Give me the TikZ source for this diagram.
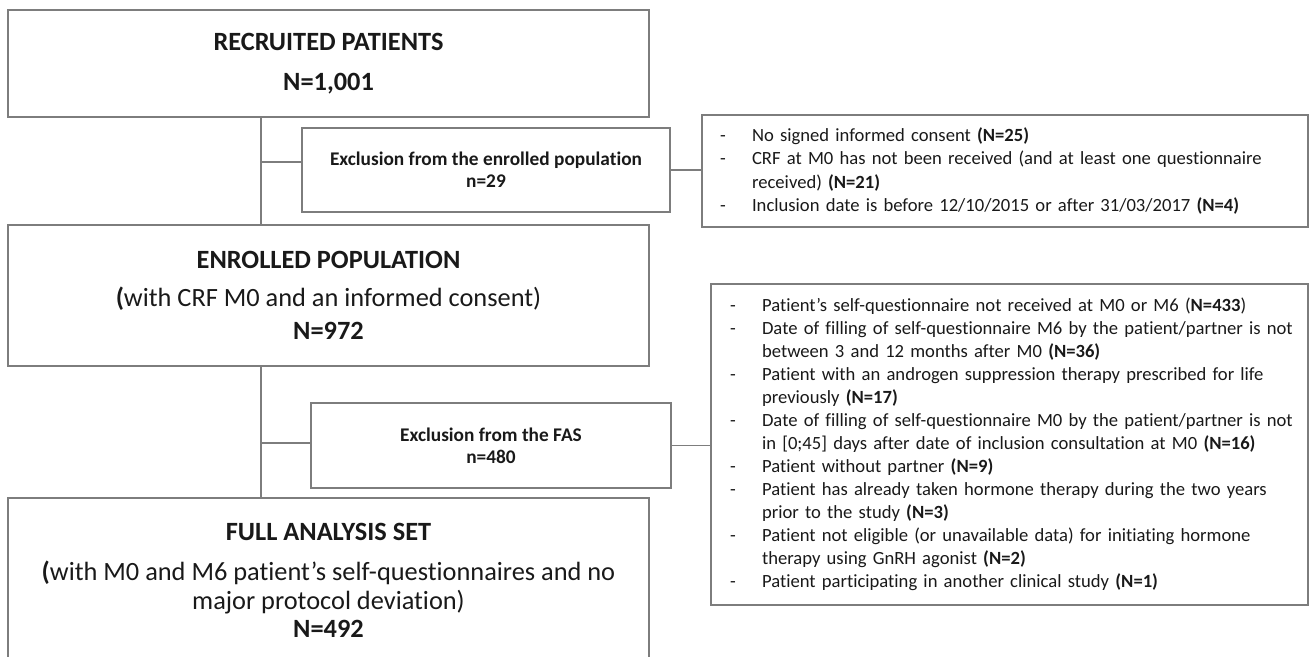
\documentclass[tikz,border=0pt]{standalone}
\usepackage{fontspec}
\setmainfont{Carlito}[Ligatures=NoCommon]
\usetikzlibrary{calc}
\definecolor{boxgrey}{RGB}{125,125,125}
\definecolor{inkgrey}{RGB}{25,25,25}
\newcommand{\dashitem}[1]{\mbox{\makebox[0.64cm][l]{-}#1}}
\newcommand{\contitem}[1]{\mbox{\hspace*{0.64cm}#1}}

\begin{document}
\begin{tikzpicture}[x=0.02cm,y=-0.02cm,
  box/.style={draw=boxgrey,line width=1.3pt,rectangle,inner sep=0pt,align=center,text=inkgrey},
  mainbox/.style={box,minimum width=12.82cm,font=\fontsize{15}{18}\selectfont},
  exclbox/.style={box,font=\bfseries\fontsize{11}{12.5}\selectfont},
  listbox/.style={box,align=left,font=\fontsize{10.6}{13.1}\selectfont},
  link/.style={draw=boxgrey,line width=0.75pt}]
\useasboundingbox (0,0) rectangle (1310,656);
% main flow
\node[mainbox,minimum height=2.14cm] (rec) at (328.5,63.5)
  {\textbf{RECRUITED PATIENTS}\\[5pt]\textbf{N=1,001}};
\node[mainbox,minimum height=2.82cm] (enr) at (328.5,295.5)
  {\textbf{ENROLLED POPULATION}\\[3.6pt]\textbf{(}with CRF M0 and an informed consent)\\[0.8pt]\textbf{N=972}};
\node[mainbox,minimum height=3.3cm] (fas) at (328.5,580.5)
  {\textbf{FULL ANALYSIS SET}\\[4.8pt]\textbf{(}with M0 and M6 patient’s self-questionnaires and no\\[-1.5pt]major protocol deviation)\\[-2pt]\textbf{N=492}};
% exclusions
\node[exclbox,minimum width=7.36cm,minimum height=1.68cm] (excl1) at (486,170)
  {Exclusion from the enrolled population\\n=29};
\node[exclbox,minimum width=7.2cm,minimum height=1.7cm] (excl2) at (491,445.5)
  {Exclusion from the FAS\\n=480};
% reasons
\node[listbox,text width=11.4cm,inner xsep=0.36cm,minimum height=2.24cm] (det1) at (1005,171)
  {\dashitem{No signed informed consent \textbf{(N=25)}}\\
   \dashitem{CRF at M0 has not been received (and at least one questionnaire}\\
   \contitem{received) \textbf{(N=21)}}\\
   \dashitem{Inclusion date is before 12/10/2015 or after 31/03/2017 \textbf{(N=4)}}};
\node[listbox,text width=11.18cm,inner xsep=0.38cm,minimum height=6.42cm] (det2) at (1009.5,444.5)
  {\dashitem{Patient's self-questionnaire not received at M0 or M6 (\textbf{N=433})}\\
   \dashitem{Date of filling of self-questionnaire M6 by the patient/partner is not}\\
   \contitem{between 3 and 12 months after M0 \textbf{(N=36)}}\\
   \dashitem{Patient with an androgen suppression therapy prescribed for life}\\
   \contitem{previously \textbf{(N=17)}}\\
   \dashitem{Date of filling of self-questionnaire M0 by the patient/partner is not}\\
   \contitem{in [0;45] days after date of inclusion consultation at M0 \textbf{(N=16)}}\\
   \dashitem{Patient without partner \textbf{(N=9)}}\\
   \dashitem{Patient has already taken hormone therapy during the two years}\\
   \contitem{prior to the study \textbf{(N=3)}}\\
   \dashitem{Patient not eligible (or unavailable data) for initiating hormone}\\
   \contitem{therapy using GnRH agonist \textbf{(N=2)}}\\
   \dashitem{Patient participating in another clinical study \textbf{(N=1)}}};
% connectors
\draw[link] ([xshift=5.08cm]rec.south west) coordinate (ta) -- ([xshift=5.08cm]enr.north west);
\draw[link] ($(excl1.west)+(0,-8)$) -- ($(ta |- excl1.west)+(0,-8)$);
\draw[link] ([xshift=5.08cm]enr.south west) coordinate (tb) -- ([xshift=5.08cm]fas.north west);
\draw[link] ($(excl2.west)+(0,-2.5)$) -- ($(tb |- excl2.west)+(0,-2.5)$);
\draw[link] (excl1.east) -- (excl1.east -| det1.west);
\draw[link] (excl2.east) -- (excl2.east -| det2.west);
\end{tikzpicture}
\end{document}
